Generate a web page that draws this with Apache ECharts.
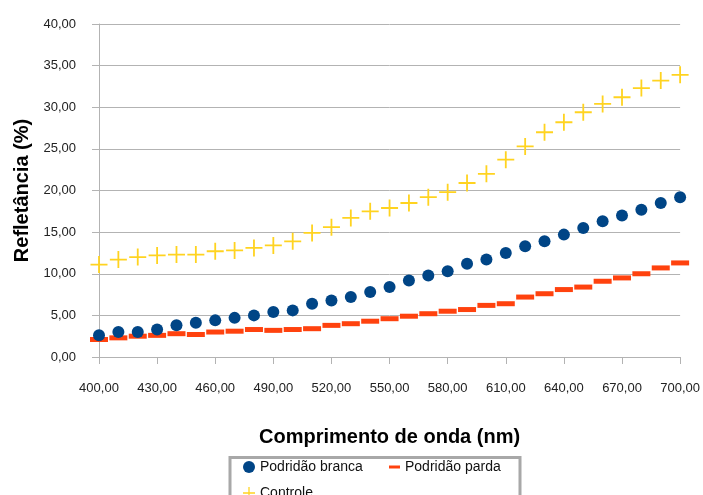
<!DOCTYPE html>
<html>
<head>
<meta charset="utf-8">
<script src="https://cdn.jsdelivr.net/npm/echarts@6/dist/echarts.min.js"></script>
<style>
  html, body { margin: 0; padding: 0; background: #fff; }
  #chart { width: 703px; height: 495px; }
</style>
</head>
<body>
<div id="chart"></div>
<script>
// Wavelengths (nm)
const wavelengths = [400, 410, 420, 430, 440, 450, 460, 470, 480, 490,
                     500, 510, 520, 530, 540, 550, 560, 570, 580, 590,
                     600, 610, 620, 630, 640, 650, 660, 670, 680, 690, 700];

// Reflectance (%) per treatment
const podridaoBranca = [2.6, 3.0, 3.0, 3.3, 3.8, 4.1, 4.4, 4.7, 5.0, 5.4,
                        5.6, 6.4, 6.8, 7.2, 7.8, 8.4, 9.2, 9.8, 10.3, 11.2,
                        11.7, 12.5, 13.3, 13.9, 14.7, 15.5, 16.3, 17.0, 17.7, 18.5, 19.2];

const podridaoParda = [2.1, 2.3, 2.5, 2.6, 2.8, 2.7, 3.0, 3.1, 3.3, 3.2,
                       3.3, 3.4, 3.8, 4.0, 4.3, 4.6, 4.9, 5.2, 5.5, 5.7,
                       6.2, 6.4, 7.2, 7.6, 8.1, 8.4, 9.1, 9.5, 10.0, 10.7, 11.3];

const controle = [11.1, 11.7, 12.0, 12.2, 12.3, 12.3, 12.7, 12.8, 13.1, 13.4,
                  13.9, 14.9, 15.6, 16.7, 17.5, 17.9, 18.5, 19.2, 19.8, 20.9,
                  22.0, 23.7, 25.3, 27.0, 28.2, 29.4, 30.4, 31.2, 32.3, 33.2, 33.9];

const seriesNames = ['Podridão branca', 'Podridão parda', 'Controle'];

const fmt = v => Number(v).toFixed(2).replace('.', ',');
const crossPath = 'path://M0,7.6H17V9.4H0Z M7.6,0H9.4V17H7.6Z';
const gridGray = '#b3b3b3';
const labelFont = { fontFamily: 'Liberation Sans', fontSize: 13, color: '#222' };
const legendText = { fontFamily: 'Liberation Sans', fontSize: 14, color: '#111' };

const chart = echarts.init(document.getElementById('chart'), null, { renderer: 'canvas' });

chart.setOption({
  animation: false,
  backgroundColor: '#ffffff',
  grid: { left: 99, right: 20, top: 24, bottom: 138 },
  xAxis: {
    type: 'category',
    data: wavelengths,
    boundaryGap: false,
    name: 'Comprimento de onda (nm)',
    nameLocation: 'middle',
    nameGap: 70,
    nameTextStyle: { fontFamily: 'Liberation Sans', fontSize: 20, fontWeight: 'bold', color: '#000' },
    axisLine: { show: false },
    axisTick: { show: true, interval: 2, length: 7, lineStyle: { color: gridGray } },
    axisLabel: { interval: 2, margin: 25, formatter: fmt, ...labelFont },
    splitLine: { show: false }
  },
  yAxis: {
    type: 'value',
    min: 0,
    max: 40,
    interval: 5,
    name: 'Refletância (%)',
    nameLocation: 'middle',
    nameGap: 64,
    nameTextStyle: { fontFamily: 'Liberation Sans', fontSize: 20, fontWeight: 'bold', color: '#000' },
    axisLine: { show: true, lineStyle: { color: gridGray } },
    axisTick: { show: true, length: 7, lineStyle: { color: gridGray } },
    axisLabel: { margin: 23, formatter: fmt, ...labelFont },
    splitLine: { show: true, lineStyle: { color: gridGray, width: 1 } }
  },
  legend: [
    {
      data: [{ name: seriesNames[0], icon: 'circle' }],
      left: 243, top: 460, itemWidth: 12, itemHeight: 12, itemGap: 0,
      textStyle: legendText, padding: 0
    },
    {
      data: [{ name: seriesNames[1], icon: 'rect' }],
      left: 389, top: 460, itemWidth: 11, itemHeight: 3, itemGap: 0,
      textStyle: legendText, padding: 0
    },
    {
      data: [{ name: seriesNames[2], icon: crossPath }],
      left: 243, top: 486, itemWidth: 12, itemHeight: 12, itemGap: 0,
      textStyle: legendText, padding: 0
    }
  ],
  graphic: [
    {
      type: 'rect',
      shape: { x: 230, y: 457.5, width: 290, height: 60 },
      style: { fill: 'none', stroke: '#a8a8a8', lineWidth: 3 },
      silent: true
    }
  ],
  series: [
    {
      name: seriesNames[0],
      type: 'scatter',
      data: podridaoBranca,
      symbol: 'circle',
      symbolSize: 12,
      itemStyle: { color: '#004586', opacity: 1 },
      z: 3
    },
    {
      name: seriesNames[1],
      type: 'scatter',
      data: podridaoParda,
      symbol: 'rect',
      symbolSize: [18, 5],
      itemStyle: { color: '#ff420e', opacity: 1 },
      z: 2
    },
    {
      name: seriesNames[2],
      type: 'scatter',
      data: controle,
      symbol: crossPath,
      symbolSize: 17,
      itemStyle: { color: '#ffd320', opacity: 1 },
      z: 4
    }
  ]
});
</script>
</body>
</html>
